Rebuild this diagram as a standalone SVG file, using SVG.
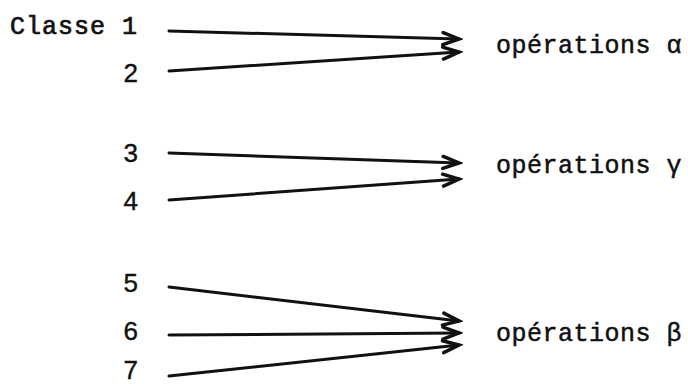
<svg xmlns="http://www.w3.org/2000/svg" width="688" height="384" viewBox="0 0 688 384">
<style>
.tw{font-family:"Liberation Mono","Courier New",monospace;font-size:25px;fill:#111;stroke:#111;stroke-width:0.5;letter-spacing:0.5px}
.cl{font-family:"Liberation Mono","Courier New",monospace;font-size:25px;fill:#111;stroke:#111;stroke-width:0.7;letter-spacing:1px}
.num{font-family:"Liberation Sans",Arial,sans-serif;font-size:26px;fill:#111;stroke:#111;stroke-width:0.4}
.ln{stroke:#111;stroke-width:3;fill:none;stroke-linecap:round}
</style>
<defs>
<marker id="ah" markerUnits="userSpaceOnUse" markerWidth="24" markerHeight="20" viewBox="0 0 24 20" refX="20" refY="10" orient="auto">
<path d="M4,4 L20,10 L4,16" fill="none" stroke="#111" stroke-width="3.5" stroke-linejoin="miter" stroke-linecap="round"/>
</marker>
</defs>
<rect width="688" height="384" fill="#fff"/>
<g id="connectors">
<line class="ln" x1="169" y1="31" x2="459" y2="39" marker-end="url(#ah)"/>
<line class="ln" x1="169" y1="71" x2="459" y2="52" marker-end="url(#ah)"/>
<line class="ln" x1="169" y1="153" x2="459" y2="163" marker-end="url(#ah)"/>
<line class="ln" x1="169" y1="200" x2="459" y2="179" marker-end="url(#ah)"/>
<line class="ln" x1="169" y1="287" x2="459" y2="321" marker-end="url(#ah)"/>
<line class="ln" x1="169" y1="335" x2="459" y2="333" marker-end="url(#ah)"/>
<line class="ln" x1="169" y1="376" x2="459" y2="345" marker-end="url(#ah)"/>
</g>
<g id="classe1"><text class="cl" x="10" y="34">Classe 1</text></g>
<g id="classe2"><text class="num" x="138" y="82" text-anchor="end">2</text></g>
<g id="classe3"><text class="num" x="138" y="162" text-anchor="end">3</text></g>
<g id="classe4"><text class="num" x="138" y="210" text-anchor="end">4</text></g>
<g id="classe5"><text class="num" x="138" y="292" text-anchor="end">5</text></g>
<g id="classe6"><text class="num" x="138" y="340" text-anchor="end">6</text></g>
<g id="classe7"><text class="num" x="138" y="379" text-anchor="end">7</text></g>
<g id="opAlpha"><text class="tw" x="496" y="53">opérations α</text></g>
<g id="opGamma"><text class="tw" x="496" y="173">opérations γ</text></g>
<g id="opBeta"><text class="tw" x="496" y="341">opérations β</text></g>
</svg>
